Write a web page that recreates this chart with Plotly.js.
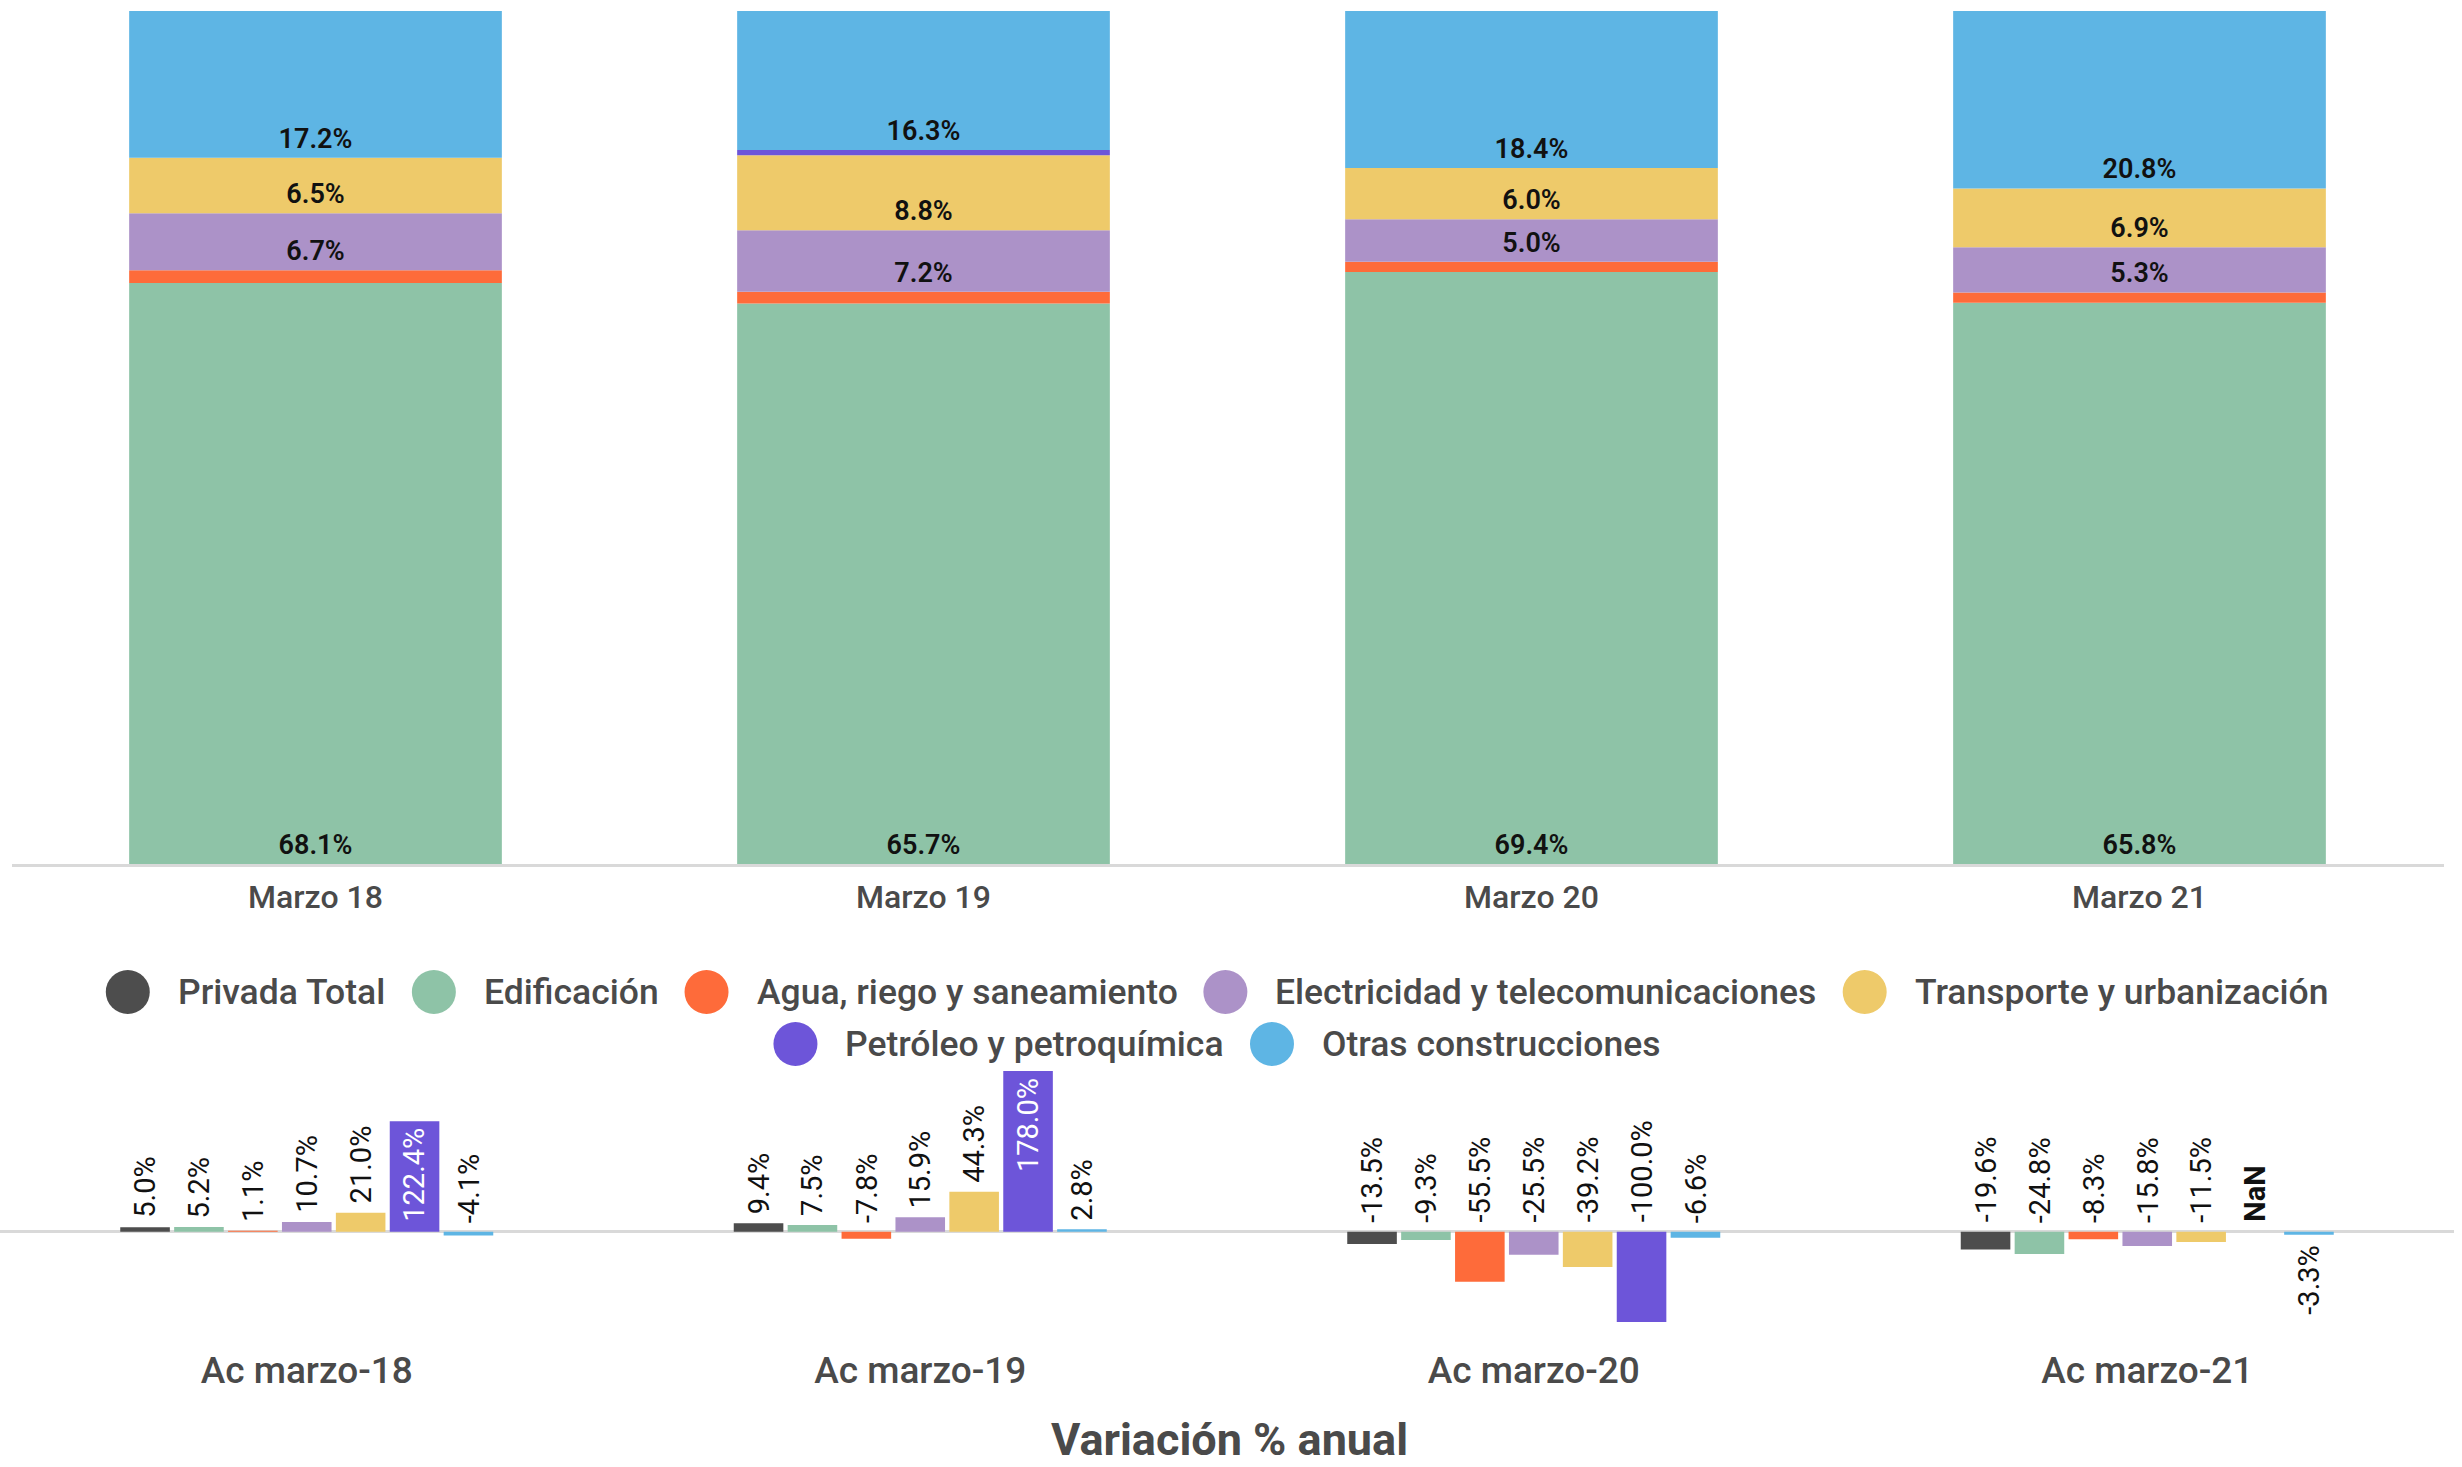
<!DOCTYPE html>
<html><head><meta charset="utf-8">
<script src="https://cdn.plot.ly/plotly-3.0.1.min.js"></script>
<style>html,body{margin:0;padding:0;background:#fff;}#chart{width:2462px;height:1467px;}</style>
</head><body><div id="chart"></div>
<script>
// ---------- DATA ----------
const seriesNames = ['Privada Total','Edificación','Agua, riego y saneamiento','Electricidad y telecomunicaciones','Transporte y urbanización','Petróleo y petroquímica','Otras construcciones'];
const seriesColors = ['#4d4d4d','#8ec3a7','#fe6b3a','#ac92c8','#eeca6a','#6d55d9','#5eb5e4'];

// Participación (% del total) — stacked bars
const shareCategories = ['Marzo 18','Marzo 19','Marzo 20','Marzo 21'];
const shareEdificacion   = [68.1, 65.7, 69.4, 65.8];
const shareAgua          = [1.5, 1.4, 1.2, 1.2];
const shareElectricidad  = [6.7, 7.2, 5.0, 5.3];
const shareTransporte    = [6.5, 8.8, 6.0, 6.9];
const sharePetroleo      = [0.0, 0.6, 0.0, 0.0];
const shareOtras         = [17.2, 16.3, 18.4, 20.8];

// Variación % anual — grouped bars
const varTitle = 'Variación % anual';
const varCategories = ['Ac marzo-18','Ac marzo-19','Ac marzo-20','Ac marzo-21'];
const varPrivadaTotal  = [5.0, 9.4, -13.5, -19.6];
const varEdificacion   = [5.2, 7.5, -9.3, -24.8];
const varAgua          = [1.1, -7.8, -55.5, -8.3];
const varElectricidad  = [10.7, 15.9, -25.5, -15.8];
const varTransporte    = [21.0, 44.3, -39.2, -11.5];
const varPetroleo      = [122.4, 178.0, -100.0, null];
const varOtras         = [-4.1, 2.8, -6.6, -3.3];

// ---------- BUILD ----------
const W = 2462, H = 1467;
const FONT = 'Roboto, "Noto Sans", sans-serif';
const TXT = '#4a4a4a';
const py = p => 1 - p / H;   // pixel row -> paper y
const px = p => p / W;       // pixel col -> paper x

const fmt = v => (v === null || v === undefined || isNaN(v)) ? 'NaN' : v.toFixed(1) + '%';

// stacked (top) — stack order bottom->top, with series index for colour
const stackSeries = [
  {idx:1, vals:shareEdificacion, label:true},
  {idx:2, vals:shareAgua, label:false},
  {idx:3, vals:shareElectricidad, label:true},
  {idx:4, vals:shareTransporte, label:true},
  {idx:5, vals:sharePetroleo, label:false},
  {idx:6, vals:shareOtras, label:true}
];
const traces = [];
let cum = shareCategories.map(() => 0);
stackSeries.forEach(s => {
  const base = cum.slice();
  traces.push({
    type:'bar', x:shareCategories, y:s.vals, base:base,
    xaxis:'x', yaxis:'y', offsetgroup:'share', width:0.613,
    name:seriesNames[s.idx], showlegend:false, hoverinfo:'skip',
    marker:{color:seriesColors[s.idx], line:{width:0}},
    text: s.label ? s.vals.map(fmt) : s.vals.map(() => ''),
    textposition:'inside', insidetextanchor:'start', textangle:0,
    constraintext:'none',
    insidetextfont:{family:FONT, size:27, color:'#111', weight:600}
  });
  cum = cum.map((c,i) => c + s.vals[i]);
});

// grouped (bottom)
const varSeries = [varPrivadaTotal, varEdificacion, varAgua, varElectricidad, varTransporte, varPetroleo, varOtras];
varSeries.forEach((vals, j) => {
  traces.push({
    type:'bar', x:varCategories, y:vals, xaxis:'x2', yaxis:'y2',
    name:seriesNames[j], showlegend:false, hoverinfo:'skip',
    marker:{color:seriesColors[j], line:{width:0}}
  });
});

const BARGAP = 0.385;
const annotations = [];
const groupW = 1 - BARGAP, slot = groupW / varSeries.length;
varCategories.forEach((cat, i) => {
  varSeries.forEach((vals, j) => {
    const v = vals[i];
    const xc = i - groupW/2 + slot*(j + 0.5);
    const a = {xref:'x2', yref:'y2', x:xc, showarrow:false, textangle:-90,
               text:fmt(v), font:{family:FONT, size:29, color:'#111', weight:400},
               xanchor:'center', borderpad:0};
    const prevIsNaN = j > 0 && (varSeries[j-1][i] === null);
    if (v === null) { a.y = 0; a.yanchor = 'bottom'; a.yshift = 9; a.font.weight = 700; }
    else if (v > 100) { a.y = v; a.yanchor = 'top'; a.yshift = -6; a.font.color = '#ffffff'; }
    else if (prevIsNaN && v < 0) { a.y = v; a.yanchor = 'top'; a.yshift = -9; }
    else { a.y = Math.max(v, 0); a.yanchor = 'bottom'; a.yshift = 8; }
    annotations.push(a);
  });
});

// bottom chart title (sits on the bottom edge of the figure)
annotations.push({xref:'paper', yref:'paper', x:px(1229), y:0, xanchor:'center', yanchor:'bottom',
  borderpad:0, showarrow:false, text:varTitle, font:{family:FONT, size:45, color:TXT, weight:700}});

// custom legend with large circles
const shapes = [];
const LEG_SIZE = 35.5, R = 22, CIRC_TXT = 26, ITEM_GAP = 28, LEG_CX = 1216;
const ctx = document.createElement('canvas').getContext('2d');
ctx.font = '500 ' + LEG_SIZE + 'px Roboto';
const rows = [[0,1,2,3,4],[5,6]];
const rowY = [992, 1044];
rows.forEach((row, r) => {
  const widths = row.map(k => ctx.measureText(seriesNames[k]).width);
  const total = widths.reduce((s,w) => s + 2*R + CIRC_TXT + w, 0) + ITEM_GAP*(row.length-1);
  let xpos = LEG_CX - total/2;
  row.forEach((k, n) => {
    shapes.push({type:'circle', xref:'paper', yref:'paper', xsizemode:'pixel', ysizemode:'pixel',
      xanchor:px(xpos + R), yanchor:py(rowY[r]), x0:-R, x1:R, y0:-R, y1:R,
      fillcolor:seriesColors[k], line:{width:0}});
    annotations.push({xref:'paper', yref:'paper', x:px(xpos + 2*R + CIRC_TXT), y:py(rowY[r]),
      xanchor:'left', yanchor:'middle', showarrow:false, text:seriesNames[k],
      font:{family:FONT, size:LEG_SIZE, color:TXT, weight:500}});
    xpos += 2*R + CIRC_TXT + widths[n] + ITEM_GAP;
  });
});

const layout = {
  width:W, height:H, margin:{l:0,r:0,t:0,b:0,pad:0},
  paper_bgcolor:'#ffffff', plot_bgcolor:'#ffffff',
  barmode:'group', bargap:BARGAP, bargroupgap:0.08,
  showlegend:false,
  font:{family:FONT, color:TXT},
  xaxis:{domain:[px(11.5), px(2443.5)], anchor:'y', type:'category',
    showline:true, linecolor:'#d9d9d9', linewidth:3, ticks:'', showgrid:false, zeroline:false,
    tickfont:{family:FONT, size:32, color:TXT, weight:500}, automargin:false, ticklabelstandoff:3},
  yaxis:{domain:[py(864), py(11)], range:[0,100], visible:false, fixedrange:true},
  xaxis2:{domain:[0, px(2454)], anchor:'y2', type:'category', showline:false, ticks:'',
    showgrid:false, zeroline:false, automargin:false,
    tickfont:{family:FONT, size:37, color:TXT, weight:500}, ticklabelstandoff:23},
  yaxis2:{domain:[py(1322), py(1071)], range:[-100,178], showticklabels:false, showgrid:false,
    zeroline:true, zerolinecolor:'#d9d9d9', zerolinewidth:3, fixedrange:true},
  annotations:annotations, shapes:shapes
};

Plotly.newPlot('chart', traces, layout, {staticPlot:true, displayModeBar:false});
</script>
</body></html>
